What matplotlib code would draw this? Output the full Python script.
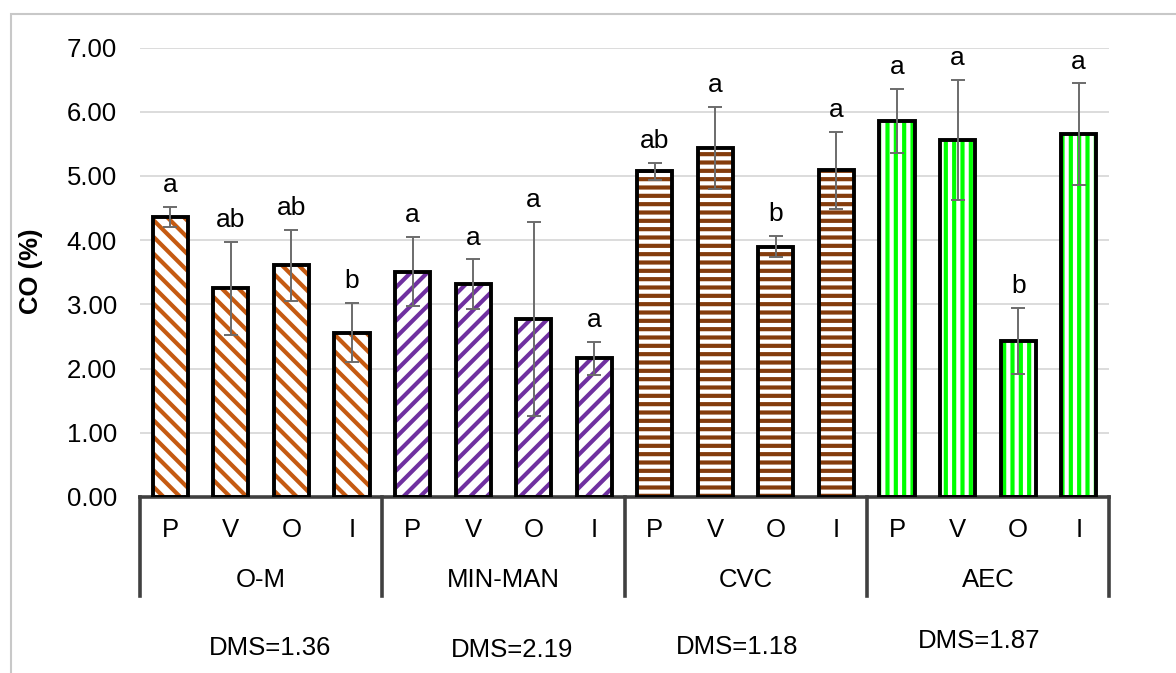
import matplotlib.pyplot as plt
import matplotlib.transforms as mtransforms
from matplotlib.lines import Line2D
from matplotlib.patches import Rectangle

plt.rcParams['font.family'] = ['Liberation Sans', 'DejaVu Sans']
plt.rcParams['hatch.linewidth'] = 3.0

# datos
grupos = ['O-M', 'MIN-MAN', 'CVC', 'AEC']
tratamientos = ['P', 'V', 'O', 'I']
dms = ['DMS=1.36', 'DMS=2.19', 'DMS=1.18', 'DMS=1.87']

co_om = [4.36, 3.25, 3.61, 2.56]
co_minman = [3.51, 3.31, 2.77, 2.16]
co_cvc = [5.07, 5.43, 3.90, 5.09]
co_aec = [5.86, 5.56, 2.43, 5.65]

err_om = [0.16, 0.72, 0.55, 0.46]
err_minman = [0.54, 0.39, 1.51, 0.26]
err_cvc = [0.13, 0.64, 0.16, 0.60]
err_aec = [0.50, 0.94, 0.52, 0.79]

letras_om = ['a', 'ab', 'ab', 'b']
letras_minman = ['a', 'a', 'a', 'a']
letras_cvc = ['ab', 'a', 'b', 'a']
letras_aec = ['a', 'a', 'b', 'a']

valores = [co_om, co_minman, co_cvc, co_aec]
errores = [err_om, err_minman, err_cvc, err_aec]
letras = [letras_om, letras_minman, letras_cvc, letras_aec]
colores = ['#C55A11', '#7030A0', '#843C0C', '#00FF00']
tramas = ['\\\\', '//', '--', '||']

W, H = 1176, 673
fig = plt.figure(figsize=(W / 100, H / 100), dpi=100)
ax = fig.add_axes([140 / W, 1 - 497 / H, (1109 - 140) / W, (497 - 47.5) / H])

fs = 18.5
ancho = 0.58
for g in range(4):
    xs = [g * 4 + i for i in range(4)]
    # relleno con trama
    ax.bar(xs, valores[g], width=ancho, color='white', edgecolor=colores[g],
           hatch=tramas[g], linewidth=0, zorder=2)
    # contorno negro
    ax.bar(xs, valores[g], width=ancho, facecolor='none', edgecolor='black',
           linewidth=2.8, zorder=3)
    ax.errorbar(xs, valores[g], yerr=errores[g], fmt='none', ecolor='#6b6b6b',
                elinewidth=1.4, capsize=5, capthick=1.4, zorder=4)
    for x, v, e, l in zip(xs, valores[g], errores[g], letras[g]):
        ax.text(x, v + e + 0.34, l, ha='center', va='center', fontsize=fs + 0.5, zorder=5)

ax.set_xlim(-0.5, 15.5)
ax.set_ylim(0, 7)
ax.set_yticks(range(8))
ax.set_yticklabels([f'{v:.2f}' for v in range(8)], fontsize=fs)
ax.tick_params(axis='y', length=0, pad=16.5)
ax.set_xticks([])
ax.grid(axis='y', color='#d9d9d9', linewidth=1.3, zorder=0)
ax.set_axisbelow(True)
for s in ['top', 'right', 'left']:
    ax.spines[s].set_visible(False)
ax.spines['bottom'].set_color('#404040')
ax.spines['bottom'].set_linewidth(2.6)

# eje de categorias en dos niveles
tr = mtransforms.blended_transform_factory(ax.transData, fig.transFigure)
for g in range(4):
    for i, t in enumerate(tratamientos):
        ax.text(g * 4 + i, 1 - 530 / H, t, transform=tr, ha='center', va='center', fontsize=fs)
    ax.text(g * 4 + 1.5, 1 - 580 / H, grupos[g], transform=tr, ha='center', va='center', fontsize=fs)
for xb in [-0.5, 3.5, 7.5, 11.5, 15.5]:
    ax.add_line(Line2D([xb, xb], [1 - 497 / H, 1 - 596 / H], transform=tr,
                       color='#404040', linewidth=2.6, clip_on=False))

dms_x = [270, 512, 737, 979]
dms_y = [648, 650, 647, 641]
for t, x, y in zip(dms, dms_x, dms_y):
    fig.text(x / W, 1 - y / H, t, ha='center', va='center', fontsize=fs)

fig.text(31 / W, 1 - 271 / H, 'CO (%)', rotation=90, ha='center', va='center',
         fontsize=fs, fontweight='bold')

# marco del grafico
fig.patches.append(Rectangle((11 / W, -0.1), 1.2, 1 - 14 / H + 0.1, transform=fig.transFigure,
                             fill=False, edgecolor='#c8c8c8', linewidth=1.5))

fig.savefig('out.png', dpi=100)
